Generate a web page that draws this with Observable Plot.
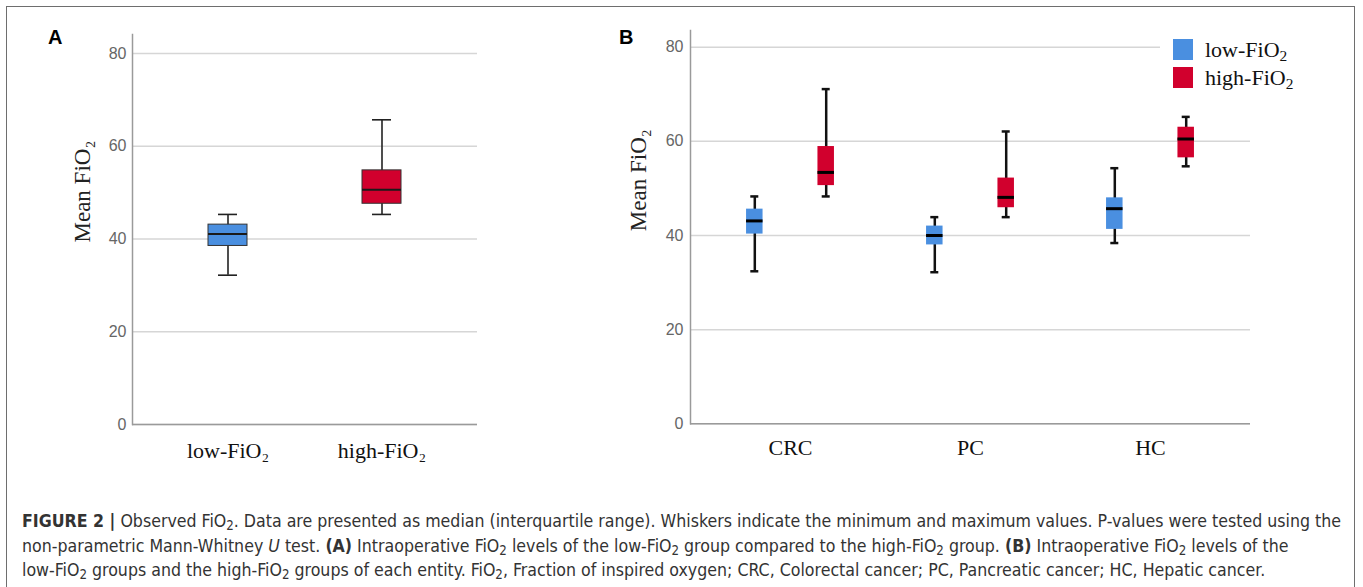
<!DOCTYPE html>
<html><head><meta charset="utf-8">
<script src="https://cdn.jsdelivr.net/npm/d3@7"></script>
<script src="https://cdn.jsdelivr.net/npm/@observablehq/plot@0.6"></script>
<style>
body{margin:0;background:#fff;}
#root{position:relative;width:1363px;height:587px;overflow:hidden;background:#fff;}
#frame{position:absolute;left:6px;top:6px;width:1349px;height:640px;border:1.5px solid #6e6e6e;box-sizing:border-box;}
.panel{position:absolute;top:0;}
.plab{position:absolute;font:bold 20px "Liberation Sans",Arial,sans-serif;line-height:20px;color:#000;}
#legendbg{position:absolute;left:1160px;top:30px;width:135px;height:66px;background:#fff;}
.sw{position:absolute;left:1173px;width:20px;height:21px;}
.lt{position:absolute;left:1205px;font:22px "Liberation Serif","Times New Roman",serif;line-height:22px;color:#111;white-space:nowrap;}
.lt sub{font-size:0.7em;vertical-align:-0.25em;line-height:0;}
#caption{position:absolute;left:22px;top:509px;font:17.6px "Liberation Sans Narrow","Arial Narrow","DejaVu Sans Condensed",sans-serif;line-height:24.5px;color:#333;white-space:nowrap;}
#caption sub{font-size:0.75em;vertical-align:-0.25em;line-height:0;}
</style>
</head><body>
<div id="root">
  <div id="frame"></div>
  <div id="panelA" class="panel" style="left:0px"></div>
  <div id="panelB" class="panel" style="left:560px"></div>
  <div class="plab" style="left:48px;top:27px">A</div>
  <div class="plab" style="left:619px;top:27px">B</div>
  <div id="legendbg"></div>
  <div class="sw" style="top:39px;background:#4a8fe0"></div>
  <div class="lt" style="top:39px">low-FiO<sub>2</sub></div>
  <div class="sw" style="top:67px;background:#d1002d"></div>
  <div class="lt" style="top:67px">high-FiO<sub>2</sub></div>
  <div id="caption"><b>FIGURE 2 |</b> Observed FiO<sub>2</sub>. Data are presented as median (interquartile range). Whiskers indicate the minimum and maximum values. P-values were tested using the<br>non-parametric Mann-Whitney <i>U</i> test. <b>(A)</b> Intraoperative FiO<sub>2</sub> levels of the low-FiO<sub>2</sub> group compared to the high-FiO<sub>2</sub> group. <b>(B)</b> Intraoperative FiO<sub>2</sub> levels of the<br>low-FiO<sub>2</sub> groups and the high-FiO<sub>2</sub> groups of each entity. FiO<sub>2</sub>, Fraction of inspired oxygen; CRC, Colorectal cancer; PC, Pancreatic cancer; HC, Hepatic cancer.</div>
</div>
<script>
// ---- Panel A data ----
const groupsA = ["low-FiO₂", "high-FiO₂"];
const minA = [32.2, 45.3];
const q1A  = [38.5, 47.6];
const medA = [41.1, 50.6];
const q3A  = [43.1, 54.8];
const maxA = [45.3, 65.7];
const colorsA = ["#4a8fe0", "#d1002d"];

// ---- Panel B data ----
const cancers = ["CRC", "PC", "HC"];
const lowMin  = [32.4, 32.2, 38.4];
const lowQ1   = [40.3, 38.0, 41.3];
const lowMed  = [43.1, 40.0, 45.7];
const lowQ3   = [45.6, 42.0, 48.0];
const lowMax  = [48.3, 43.9, 54.3];
const highMin = [48.3, 43.9, 54.7];
const highQ1  = [50.6, 45.9, 56.5];
const highMed = [53.4, 48.1, 60.5];
const highQ3  = [58.9, 52.2, 63.0];
const highMax = [71.1, 62.1, 65.2];

const yTicks = [0, 20, 40, 60, 80];

const tableA = groupsA.map((g, i) => ({group: g, min: minA[i], q1: q1A[i], med: medA[i], q3: q3A[i], max: maxA[i]}));
const tableLow = cancers.map((c, i) => ({cancer: c, min: lowMin[i], q1: lowQ1[i], med: lowMed[i], q3: lowQ3[i], max: lowMax[i]}));
const tableHigh = cancers.map((c, i) => ({cancer: c, min: highMin[i], q1: highQ1[i], med: highMed[i], q3: highQ3[i], max: highMax[i]}));

const serif = "'Liberation Serif','Times New Roman',serif";
const sans = "'Liberation Sans',Arial,sans-serif";

const plotA = Plot.plot({
  width: 560, height: 470,
  marginLeft: 132, marginRight: 83, marginTop: 34, marginBottom: 46,
  x: {domain: groupsA, paddingInner: 0.748, paddingOuter: 0.487, label: null},
  y: {domain: [0, 84.1], label: null},
  color: {domain: groupsA, range: colorsA},
  style: {fontFamily: serif, background: "transparent", color: "#222"},
  marks: [
    Plot.gridY(yTicks, {stroke: "#d6d6d6", strokeOpacity: 1, strokeWidth: 1.5}),
    Plot.ruleY([0], {stroke: "#9a9a9a", strokeWidth: 1.5}),
    Plot.frame({anchor: "left", stroke: "#9a9a9a", strokeWidth: 1.5}),
    Plot.ruleX(tableA, {x: "group", y1: "min", y2: "max", stroke: "#222", strokeWidth: 1.6}),
    Plot.tickY(tableA, {x: "group", y: "min", inset: 10, stroke: "#222", strokeWidth: 1.6}),
    Plot.tickY(tableA, {x: "group", y: "max", inset: 10, stroke: "#222", strokeWidth: 1.6}),
    Plot.barY(tableA, {x: "group", y1: "q1", y2: "q3", fill: "group", stroke: "#333", strokeWidth: 1}),
    Plot.tickY(tableA, {x: "group", y: "med", stroke: "#1a1a1a", strokeWidth: 2}),
    Plot.axisY(yTicks, {tickSize: 0, tickPadding: 6, fontSize: 16, fontFamily: sans, fill: "#666", label: null}),
    Plot.axisX({tickSize: 0, tickPadding: 18, fontSize: 22, fontFamily: serif, fill: "#111", label: null}),
    Plot.text(["Mean FiO₂"], {frameAnchor: "left", rotate: -90, dx: -50, dy: 13, fontSize: 23, fontFamily: serif, fill: "#222"})
  ]
});
document.getElementById("panelA").append(plotA);

const off = 35.7;
function boxMarks(table, color, sign) {
  const dx = sign * off;
  return [
    Plot.ruleX(table, {x: "cancer", y1: "min", y2: "max", dx, stroke: "#111", strokeWidth: 2.5}),
    Plot.tickY(table, {x: "cancer", y: "min", dx, inset: 86, stroke: "#111", strokeWidth: 2.5}),
    Plot.tickY(table, {x: "cancer", y: "max", dx, inset: 86, stroke: "#111", strokeWidth: 2.5}),
    Plot.barY(table, {x: "cancer", y1: "q1", y2: "q3", dx, insetLeft: 81.75, insetRight: 81.75, fill: color}),
    Plot.tickY(table, {x: "cancer", y: "med", dx, inset: 81.75, stroke: "#000", strokeWidth: 3})
  ];
}

const plotB = Plot.plot({
  width: 760, height: 470,
  marginLeft: 130, marginRight: 70, marginTop: 30, marginBottom: 46.7,
  x: {domain: cancers, paddingInner: 0, paddingOuter: 0.047, label: null},
  y: {domain: [0, 83.55], label: null},
  style: {fontFamily: serif, background: "transparent", color: "#222"},
  marks: [
    Plot.gridY(yTicks, {stroke: "#d6d6d6", strokeOpacity: 1, strokeWidth: 1.5}),
    Plot.ruleY([0], {stroke: "#9a9a9a", strokeWidth: 1.5}),
    Plot.frame({anchor: "left", stroke: "#9a9a9a", strokeWidth: 1.5}),
    ...boxMarks(tableLow, colorsA[0], -1),
    ...boxMarks(tableHigh, colorsA[1], 1),
    Plot.axisY(yTicks, {tickSize: 0, tickPadding: 7, fontSize: 16, fontFamily: sans, fill: "#666", label: null}),
    Plot.axisX({tickSize: 0, tickPadding: 16, fontSize: 22, fontFamily: serif, fill: "#111", label: null}),
    Plot.text(["Mean FiO₂"], {frameAnchor: "left", rotate: -90, dx: -52, dy: 4, fontSize: 23, fontFamily: serif, fill: "#222"})
  ]
});
document.getElementById("panelB").append(plotB);
</script>
</body></html>
